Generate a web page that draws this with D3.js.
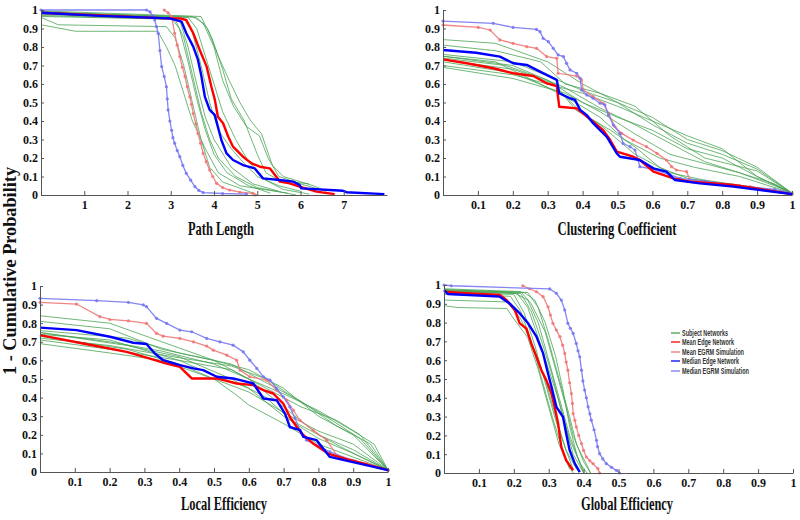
<!DOCTYPE html>
<html>
<head>
<meta charset="utf-8">
<script src="https://cdn.jsdelivr.net/npm/d3@7/dist/d3.min.js"></script>
<style>
html,body{margin:0;padding:0;background:#fff;}
svg{display:block;}
</style>
</head>
<body>
<svg id="chart" width="800" height="520"></svg>
<script>
// ---------------- DATA ----------------
const seriesNames = ["Subject Networks","Mean Edge Network","Mean EGRM Simulation","Median Edge Network","Median EGRM Simulation"];
const yTickValues = [0,0.1,0.2,0.3,0.4,0.5,0.6,0.7,0.8,0.9,1];
const yTickLabels = ["0","0.1","0.2","0.3","0.4","0.5","0.6","0.7","0.8","0.9","1"];
const plXTickValues = [1,2,3,4,5,6,7];
const plXTickLabels = ["1","2","3","4","5","6","7"];
const unitXTickValues = [0.1,0.2,0.3,0.4,0.5,0.6,0.7,0.8,0.9,1];
const unitXTickLabels = ["0.1","0.2","0.3","0.4","0.5","0.6","0.7","0.8","0.9","1"];
const axisTitles = ["Path Length","Clustering Coefficient","Local Efficiency","Global Efficiency"];
const yTitle = "1 - Cumulative Probability";

// Path Length
const plSubjects = [
 [[0,0.96],[0.4,0.92],[2.9,0.91],[3.1,0.85],[3.3,0.7],[3.5,0.5],[3.7,0.3],[3.9,0.15],[4.2,0.07],[4.8,0.02],[5.0,0]],
 [[0,0.92],[0.8,0.885],[2.7,0.885],[2.9,0.8],[3.1,0.7],[3.3,0.55],[3.5,0.4],[3.8,0.25],[4.1,0.12],[4.6,0.05],[5.7,0.01]],
 [[0,0.99],[3.0,0.96],[3.2,0.9],[3.4,0.72],[3.6,0.52],[3.8,0.35],[4.0,0.22],[4.3,0.12],[4.8,0.05],[5.3,0.01]],
 [[0,0.97],[3.1,0.95],[3.3,0.85],[3.5,0.65],[3.7,0.45],[3.9,0.3],[4.1,0.2],[4.5,0.1],[5.0,0.04],[5.9,0.0]],
 [[0,0.98],[3.4,0.96],[3.6,0.9],[3.8,0.75],[4.0,0.6],[4.2,0.45],[4.5,0.3],[4.8,0.18],[5.2,0.08],[5.6,0.03],[6.2,0.005]],
 [[0,0.985],[3.5,0.965],[3.75,0.93],[4.0,0.8],[4.2,0.62],[4.45,0.48],[4.75,0.37],[5.05,0.32],[5.25,0.2],[5.5,0.1],[6.0,0.06],[6.6,0.02]],
 [[0,0.99],[3.6,0.96],[3.85,0.9],[4.1,0.75],[4.35,0.62],[4.6,0.5],[4.85,0.4],[5.1,0.33],[5.35,0.16],[5.6,0.1],[6.3,0.05],[6.5,0.03]],
 [[0,0.995],[3.7,0.965],[3.95,0.85],[4.2,0.68],[4.4,0.52],[4.7,0.4],[5.0,0.22],[5.2,0.12],[5.5,0.08],[6.2,0.06]],
 [[0,0.975],[3.3,0.955],[3.5,0.88],[3.7,0.7],[3.9,0.5],[4.1,0.35],[4.4,0.25],[4.7,0.17],[5.0,0.1],[5.5,0.05],[6.0,0.02]],
 [[0,0.965],[3.2,0.95],[3.4,0.8],[3.6,0.6],[3.8,0.42],[4.0,0.3],[4.4,0.15],[4.9,0.06],[5.5,0.02]]
];
const plMeanEdge = [[0,0.985],[2.9,0.955],[3.21,0.955],[3.36,0.946],[3.52,0.874],[3.67,0.784],[3.83,0.694],[3.94,0.585],[4.02,0.514],[4.09,0.423],[4.21,0.388],[4.33,0.315],[4.44,0.261],[4.67,0.207],[4.87,0.171],[5.06,0.153],[5.29,0.144],[5.44,0.099],[5.52,0.072],[5.75,0.063],[5.98,0.045],[6.37,0.018],[6.79,0.005]];
const plMeanEgrm = [[2.85,1.0],[2.94,0.985],[3.02,0.964],[3.09,0.874],[3.15,0.81],[3.21,0.748],[3.27,0.69],[3.33,0.64],[3.38,0.585],[3.44,0.53],[3.48,0.49],[3.52,0.44],[3.58,0.385],[3.63,0.333],[3.69,0.28],[3.75,0.225],[3.82,0.18],[3.9,0.135],[3.97,0.1],[4.06,0.063],[4.2,0.04],[4.36,0.027],[4.6,0.015],[4.9,0.009],[4.95,0.0]];
const plMedianEdge = [[0,0.985],[1.36,0.968],[2.98,0.955],[3.25,0.937],[3.36,0.874],[3.52,0.802],[3.63,0.73],[3.71,0.64],[3.79,0.53],[3.9,0.46],[4.02,0.432],[4.09,0.369],[4.17,0.297],[4.29,0.225],[4.44,0.189],[4.67,0.162],[4.94,0.144],[5.13,0.09],[5.52,0.081],[5.83,0.072],[5.98,0.054],[6.02,0.036],[6.98,0.023],[7.06,0.015],[7.94,0.005]];
const plMedianEgrm = [[0,1.0],[2.44,1.0],[2.52,0.99],[2.58,0.97],[2.63,0.946],[2.67,0.91],[2.71,0.874],[2.75,0.78],[2.79,0.694],[2.85,0.64],[2.9,0.585],[2.92,0.52],[2.94,0.46],[2.98,0.4],[3.02,0.35],[3.05,0.31],[3.09,0.28],[3.15,0.24],[3.21,0.207],[3.28,0.16],[3.36,0.117],[3.46,0.08],[3.56,0.045],[3.65,0.025],[3.75,0.013],[4.2,0.008],[4.75,0.005]];

// Clustering Coefficient
const ccSubjects = [
 [[0,0.84],[0.15,0.82],[0.3,0.72],[0.4,0.6],[0.5,0.5],[0.6,0.38],[0.7,0.28],[0.8,0.22],[0.9,0.14],[1,0.01]],
 [[0,0.81],[0.15,0.78],[0.28,0.72],[0.35,0.6],[0.45,0.55],[0.55,0.48],[0.65,0.32],[0.75,0.2],[0.9,0.13],[1,0.01]],
 [[0,0.76],[0.2,0.72],[0.33,0.62],[0.42,0.55],[0.5,0.5],[0.6,0.42],[0.7,0.3],[0.8,0.24],[0.9,0.15],[1,0.01]],
 [[0,0.75],[0.2,0.7],[0.35,0.58],[0.45,0.47],[0.55,0.38],[0.65,0.28],[0.75,0.18],[0.85,0.12],[0.95,0.06],[1,0.01]],
 [[0,0.74],[0.18,0.7],[0.3,0.62],[0.4,0.5],[0.5,0.42],[0.6,0.35],[0.7,0.25],[0.8,0.2],[0.9,0.1],[1,0.01]],
 [[0,0.73],[0.2,0.68],[0.32,0.6],[0.38,0.46],[0.45,0.38],[0.55,0.22],[0.65,0.12],[0.75,0.08],[0.9,0.04],[1,0.01]],
 [[0,0.72],[0.2,0.66],[0.34,0.55],[0.4,0.44],[0.48,0.35],[0.55,0.26],[0.62,0.15],[0.7,0.09],[0.85,0.05],[1,0.01]],
 [[0,0.7],[0.2,0.65],[0.3,0.6],[0.4,0.55],[0.5,0.48],[0.6,0.4],[0.7,0.32],[0.8,0.25],[0.9,0.1],[1,0.01]],
 [[0,0.69],[0.2,0.63],[0.35,0.55],[0.45,0.45],[0.55,0.33],[0.65,0.22],[0.75,0.17],[0.85,0.12],[0.95,0.05],[1,0.01]],
 [[0,0.75],[0.15,0.72],[0.3,0.58],[0.38,0.5],[0.45,0.42],[0.52,0.3],[0.62,0.2],[0.72,0.15],[0.85,0.1],[1,0.01]]
];
const ccMeanEdge = [[0,0.733],[0.068,0.712],[0.144,0.685],[0.201,0.658],[0.259,0.643],[0.297,0.604],[0.326,0.589],[0.333,0.477],[0.383,0.468],[0.407,0.432],[0.43,0.396],[0.459,0.351],[0.479,0.297],[0.498,0.234],[0.545,0.207],[0.564,0.189],[0.603,0.126],[0.66,0.09],[0.708,0.072],[0.832,0.054],[1,0.005]];
const ccMeanEgrm = [[0,0.919],[0.101,0.906],[0.135,0.892],[0.163,0.838],[0.201,0.82],[0.24,0.802],[0.268,0.793],[0.297,0.748],[0.326,0.739],[0.33,0.658],[0.383,0.643],[0.397,0.622],[0.402,0.568],[0.43,0.532],[0.459,0.496],[0.474,0.442],[0.493,0.369],[0.512,0.333],[0.545,0.297],[0.583,0.261],[0.613,0.225],[0.64,0.189],[0.655,0.153],[0.669,0.135],[0.698,0.126],[0.708,0.081],[0.784,0.063],[0.88,0.045],[1,0.005]];
const ccMedianEdge = [[0,0.784],[0.095,0.769],[0.163,0.748],[0.201,0.712],[0.24,0.703],[0.278,0.667],[0.307,0.64],[0.326,0.622],[0.333,0.55],[0.364,0.523],[0.378,0.514],[0.393,0.46],[0.412,0.432],[0.43,0.388],[0.45,0.351],[0.469,0.315],[0.498,0.225],[0.507,0.207],[0.564,0.189],[0.603,0.144],[0.64,0.126],[0.665,0.081],[0.736,0.063],[0.832,0.045],[1,0.005]];
const ccMedianEgrm = [[0,0.94],[0.144,0.928],[0.201,0.906],[0.268,0.895],[0.278,0.883],[0.287,0.847],[0.302,0.829],[0.316,0.793],[0.33,0.757],[0.345,0.748],[0.354,0.712],[0.364,0.676],[0.383,0.658],[0.393,0.631],[0.397,0.568],[0.412,0.541],[0.43,0.523],[0.45,0.496],[0.464,0.487],[0.474,0.432],[0.488,0.378],[0.507,0.333],[0.516,0.279],[0.536,0.261],[0.55,0.243],[0.559,0.189],[0.564,0.153],[0.6,0.14],[0.65,0.11],[0.68,0.09],[0.75,0.075],[0.85,0.05],[0.95,0.03],[1,0.01]];

// Local Efficiency
const leSubjects = [
 [[0,0.84],[0.2,0.8],[0.35,0.7],[0.5,0.6],[0.6,0.55],[0.7,0.45],[0.8,0.3],[0.9,0.2],[1,0.01]],
 [[0,0.81],[0.2,0.77],[0.35,0.66],[0.5,0.6],[0.6,0.5],[0.7,0.42],[0.8,0.33],[0.9,0.22],[0.96,0.15],[1,0.01]],
 [[0,0.76],[0.25,0.72],[0.4,0.64],[0.55,0.58],[0.65,0.48],[0.75,0.38],[0.85,0.25],[0.95,0.15],[1,0.01]],
 [[0,0.75],[0.2,0.7],[0.35,0.65],[0.5,0.58],[0.6,0.5],[0.7,0.35],[0.8,0.2],[0.9,0.12],[1,0.01]],
 [[0,0.74],[0.2,0.71],[0.4,0.6],[0.5,0.52],[0.6,0.45],[0.7,0.3],[0.8,0.18],[0.9,0.1],[1,0.01]],
 [[0,0.73],[0.25,0.66],[0.4,0.58],[0.5,0.5],[0.56,0.42],[0.6,0.36],[0.7,0.26],[0.8,0.15],[0.9,0.08],[1,0.01]],
 [[0,0.71],[0.2,0.66],[0.4,0.6],[0.55,0.55],[0.65,0.45],[0.75,0.35],[0.85,0.28],[0.92,0.2],[1,0.01]],
 [[0,0.69],[0.2,0.64],[0.35,0.6],[0.5,0.5],[0.6,0.43],[0.7,0.32],[0.8,0.22],[0.9,0.15],[1,0.01]],
 [[0,0.75],[0.25,0.68],[0.4,0.62],[0.55,0.5],[0.65,0.4],[0.72,0.28],[0.8,0.2],[0.88,0.12],[1,0.01]],
 [[0,0.72],[0.2,0.68],[0.38,0.62],[0.55,0.57],[0.65,0.5],[0.73,0.4],[0.82,0.3],[0.92,0.18],[1,0.01]]
];
const leMeanEdge = [[0,0.736],[0.124,0.691],[0.249,0.646],[0.316,0.61],[0.364,0.583],[0.402,0.565],[0.436,0.503],[0.508,0.503],[0.565,0.476],[0.613,0.467],[0.642,0.44],[0.67,0.422],[0.699,0.368],[0.718,0.296],[0.738,0.242],[0.757,0.198],[0.785,0.153],[0.828,0.099],[0.891,0.063],[1,0.01]];
const leMeanEgrm = [[0,0.912],[0.105,0.903],[0.172,0.835],[0.201,0.82],[0.254,0.813],[0.306,0.799],[0.335,0.745],[0.354,0.73],[0.402,0.718],[0.441,0.7],[0.479,0.677],[0.498,0.655],[0.537,0.628],[0.565,0.601],[0.575,0.548],[0.603,0.512],[0.651,0.494],[0.68,0.44],[0.709,0.386],[0.728,0.332],[0.747,0.278],[0.785,0.225],[0.824,0.171],[0.853,0.09],[0.939,0.045],[1,0.01]];
const leMedianEdge = [[0,0.776],[0.105,0.763],[0.201,0.727],[0.268,0.695],[0.306,0.688],[0.33,0.637],[0.354,0.601],[0.402,0.575],[0.441,0.557],[0.469,0.548],[0.508,0.512],[0.555,0.503],[0.575,0.494],[0.613,0.476],[0.642,0.395],[0.68,0.386],[0.704,0.314],[0.718,0.242],[0.747,0.225],[0.757,0.189],[0.795,0.171],[0.833,0.081],[1,0.01]];
const leMedianEgrm = [[0,0.934],[0.163,0.921],[0.254,0.912],[0.297,0.898],[0.306,0.889],[0.335,0.826],[0.364,0.799],[0.402,0.763],[0.436,0.754],[0.479,0.718],[0.517,0.7],[0.555,0.682],[0.584,0.646],[0.603,0.601],[0.623,0.557],[0.642,0.512],[0.661,0.494],[0.68,0.449],[0.699,0.404],[0.718,0.35],[0.733,0.288],[0.747,0.225],[0.766,0.171],[0.8,0.14],[0.833,0.108],[0.9,0.06],[1,0.01]];

// Global Efficiency
const geSubjects = [
 [[0,0.97],[0.2,0.96],[0.24,0.92],[0.27,0.8],[0.3,0.6],[0.33,0.4],[0.36,0.2],[0.39,0.05],[0.41,0]],
 [[0,0.92],[0.18,0.91],[0.22,0.82],[0.26,0.65],[0.29,0.5],[0.32,0.3],[0.35,0.12],[0.37,0.02]],
 [[0,0.89],[0.04,0.88],[0.18,0.875],[0.2,0.82],[0.24,0.72],[0.27,0.55],[0.3,0.35],[0.33,0.15],[0.36,0.03],[0.37,0]],
 [[0,0.98],[0.22,0.965],[0.25,0.9],[0.29,0.75],[0.32,0.55],[0.35,0.35],[0.37,0.2],[0.4,0.06],[0.42,0]],
 [[0,0.975],[0.24,0.96],[0.27,0.88],[0.3,0.7],[0.33,0.5],[0.36,0.3],[0.38,0.15],[0.41,0.04],[0.42,0]],
 [[0,0.96],[0.2,0.95],[0.23,0.85],[0.26,0.68],[0.29,0.48],[0.32,0.28],[0.35,0.12],[0.38,0.02]],
 [[0,0.965],[0.22,0.955],[0.25,0.86],[0.28,0.7],[0.31,0.52],[0.34,0.3],[0.37,0.1],[0.4,0]],
 [[0,0.95],[0.19,0.94],[0.22,0.86],[0.25,0.7],[0.28,0.5],[0.31,0.3],[0.34,0.12],[0.36,0.02]],
 [[0,0.975],[0.23,0.96],[0.26,0.92],[0.29,0.8],[0.32,0.62],[0.34,0.45],[0.36,0.25],[0.38,0.1],[0.4,0.01]],
 [[0,0.97],[0.21,0.955],[0.24,0.88],[0.27,0.72],[0.3,0.55],[0.33,0.38],[0.36,0.18],[0.39,0.05],[0.4,0]]
];
const geMeanEdge = [[0,0.964],[0.064,0.956],[0.16,0.947],[0.179,0.92],[0.203,0.867],[0.217,0.796],[0.236,0.769],[0.25,0.689],[0.265,0.618],[0.279,0.547],[0.293,0.494],[0.308,0.423],[0.317,0.352],[0.327,0.263],[0.336,0.139],[0.35,0.068],[0.37,0.014]];
const geMeanEgrm = [[0.226,0.996],[0.245,0.98],[0.265,0.964],[0.284,0.938],[0.298,0.884],[0.305,0.84],[0.312,0.796],[0.322,0.76],[0.332,0.725],[0.34,0.68],[0.346,0.636],[0.35,0.59],[0.355,0.547],[0.36,0.48],[0.365,0.423],[0.368,0.37],[0.37,0.316],[0.375,0.28],[0.379,0.245],[0.386,0.2],[0.394,0.157],[0.4,0.12],[0.408,0.085],[0.418,0.065],[0.427,0.05],[0.441,0.023],[0.446,0.0]];
const geMedianEdge = [[0,0.973],[0.011,0.952],[0.16,0.938],[0.188,0.902],[0.217,0.849],[0.241,0.796],[0.265,0.725],[0.284,0.636],[0.298,0.529],[0.308,0.458],[0.322,0.352],[0.341,0.298],[0.35,0.21],[0.36,0.121],[0.375,0.05],[0.389,0.005]];
const geMedianEgrm = [[0,1.0],[0.021,0.996],[0.303,0.979],[0.322,0.956],[0.336,0.92],[0.346,0.867],[0.355,0.796],[0.362,0.77],[0.37,0.743],[0.379,0.689],[0.384,0.65],[0.389,0.618],[0.394,0.547],[0.398,0.49],[0.403,0.441],[0.408,0.4],[0.413,0.352],[0.418,0.315],[0.422,0.281],[0.43,0.23],[0.437,0.174],[0.44,0.14],[0.446,0.103],[0.455,0.075],[0.465,0.05],[0.48,0.03],[0.494,0.014],[0.503,0.0]];

// ---------------- DRAWING ----------------
const svg = d3.select("#chart");
const colors = {
  subject: "#42a04e",
  meanEdge: "#ff0000",
  meanEgrm: "#f07878",
  medianEdge: "#0000ff",
  medianEgrm: "#7878f2"
};

const panels = [
  {subjects: plSubjects, meanEdge: plMeanEdge, meanEgrm: plMeanEgrm, medianEdge: plMedianEdge, medianEgrm: plMedianEgrm,
   xDomain: [0, 8], xTicks: plXTickValues, xLabels: plXTickLabels, title: axisTitles[0],
   x0: 41, x1: 387, y0: 195, y1: 10, titleX: 221, titleY: 235, titleW: 66},
  {subjects: ccSubjects, meanEdge: ccMeanEdge, meanEgrm: ccMeanEgrm, medianEdge: ccMedianEdge, medianEgrm: ccMedianEgrm,
   xDomain: [0, 1], xTicks: unitXTickValues, xLabels: unitXTickLabels, title: axisTitles[1],
   x0: 443, x1: 792, y0: 195, y1: 10, titleX: 617, titleY: 235, titleW: 119},
  {subjects: leSubjects, meanEdge: leMeanEdge, meanEgrm: leMeanEgrm, medianEdge: leMedianEdge, medianEgrm: leMedianEgrm,
   xDomain: [0, 1], xTicks: unitXTickValues, xLabels: unitXTickLabels, title: axisTitles[2],
   x0: 40, x1: 388, y0: 472, y1: 286, titleX: 224, titleY: 510, titleW: 86},
  {subjects: geSubjects, meanEdge: geMeanEdge, meanEgrm: geMeanEgrm, medianEdge: geMedianEdge, medianEgrm: geMedianEgrm,
   xDomain: [0, 1], xTicks: unitXTickValues, xLabels: unitXTickLabels, title: axisTitles[3],
   x0: 444, x1: 793, y0: 473, y1: 285, titleX: 627, titleY: 510, titleW: 92}
];

const tickFont = "'Liberation Serif','Times New Roman',serif";

panels.forEach(p => {
  const x = d3.scaleLinear().domain(p.xDomain).range([p.x0, p.x1]);
  const y = d3.scaleLinear().domain([0, 1]).range([p.y0, p.y1]);
  const g = svg.append("g");

  const line = d3.line().x(d => x(d[0])).y(d => y(d[1]));

  // subject networks
  g.append("g").selectAll("path").data(p.subjects).join("path")
    .attr("d", line).attr("fill", "none")
    .attr("stroke", colors.subject).attr("stroke-width", 0.9).attr("stroke-opacity", 0.85);

  // EGRM simulations with markers
  [[p.meanEgrm, colors.meanEgrm], [p.medianEgrm, colors.medianEgrm]].forEach(([data, c]) => {
    g.append("path").datum(data).attr("d", line).attr("fill", "none")
      .attr("stroke", c).attr("stroke-width", 1.3).attr("stroke-opacity", 0.9);
    g.append("g").selectAll("circle").data(data).join("circle")
      .attr("cx", d => x(d[0])).attr("cy", d => y(d[1])).attr("r", 1.6)
      .attr("fill", c).attr("fill-opacity", 0.9);
  });

  // Mean / median edge networks
  g.append("path").datum(p.meanEdge).attr("d", line).attr("fill", "none")
    .attr("stroke", colors.meanEdge).attr("stroke-width", 2.4).attr("stroke-linejoin", "round");
  g.append("path").datum(p.medianEdge).attr("d", line).attr("fill", "none")
    .attr("stroke", colors.medianEdge).attr("stroke-width", 2.4).attr("stroke-linejoin", "round");

  // axes
  const xAxis = d3.axisBottom(x).tickValues(p.xTicks)
    .tickFormat((d, i) => p.xLabels[i]).tickSizeInner(-4).tickSizeOuter(0).tickPadding(5);
  const yAxis = d3.axisLeft(y).tickValues(yTickValues)
    .tickFormat((d, i) => yTickLabels[i]).tickSizeInner(-3).tickSizeOuter(0).tickPadding(3);

  const gx = g.append("g").attr("transform", `translate(0,${p.y0})`).call(xAxis);
  const gy = g.append("g").attr("transform", `translate(${p.x0},0)`).call(yAxis);
  [gx, gy].forEach(a => {
    a.selectAll(".domain").attr("stroke", "#555").attr("stroke-width", 1);
    a.selectAll(".tick line").attr("stroke", "#555");
    a.selectAll("text").attr("font-family", tickFont).attr("font-weight", "bold")
      .attr("font-size", 12).attr("fill", "#111");
  });

  // axis title
  g.append("text").attr("x", p.titleX).attr("y", p.titleY)
    .attr("text-anchor", "middle").attr("font-family", tickFont)
    .attr("font-weight", "bold").attr("font-size", 18).attr("fill", "#111")
    .attr("textLength", p.titleW).attr("lengthAdjust", "spacingAndGlyphs")
    .text(p.title);
});

// shared y title
svg.append("text").attr("transform", "translate(16,271) rotate(-90)")
  .attr("text-anchor", "middle").attr("font-family", tickFont)
  .attr("font-weight", "bold").attr("font-size", 18).attr("fill", "#111")
  .attr("textLength", 208).attr("lengthAdjust", "spacingAndGlyphs")
  .text(yTitle);

// legend
const legendColors = [colors.subject, colors.meanEdge, colors.meanEgrm, colors.medianEdge, colors.medianEgrm];
const legendWidths = [46, 52, 62, 57, 67];
const legendRowsY = [333, 342, 352, 361, 371];
const lg = svg.append("g");
seriesNames.forEach((name, i) => {
  lg.append("line").attr("x1", 671).attr("x2", 680)
    .attr("y1", legendRowsY[i]).attr("y2", legendRowsY[i])
    .attr("stroke", legendColors[i]).attr("stroke-width", 1.3);
  lg.append("text").attr("x", 682).attr("y", legendRowsY[i] + 3)
    .attr("font-family", "'Liberation Sans Narrow','Liberation Sans',Arial,sans-serif")
    .attr("font-size", 8.5).attr("font-weight", "bold").attr("fill", "#333")
    .attr("textLength", legendWidths[i]).attr("lengthAdjust", "spacingAndGlyphs")
    .text(name);
});
</script>
</body>
</html>
